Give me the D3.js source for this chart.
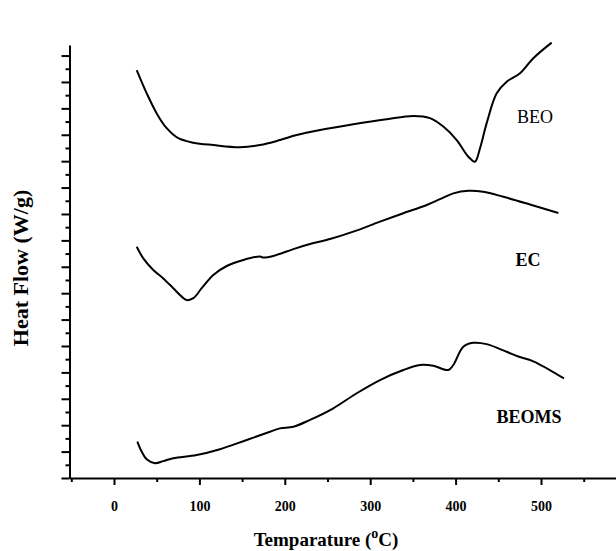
<!DOCTYPE html>
<html><head><meta charset="utf-8">
<script src="https://cdn.jsdelivr.net/npm/d3@7"></script>
<style>html,body{margin:0;padding:0;background:#fff;}svg{display:block;}</style>
</head><body>
<svg id="chart" width="616" height="551"></svg>
<script>
// Temperature (°C) and heat flow (arbitrary stacked units)
const beoT = [26.6,38.3,50.0,61.7,75.3,92.9,116.3,147.5,171.0,194.4,213.9,241.2,280.2,319.3,350.5,370.0,385.6,401.3,414.9,422.7,428.6,436.4,448.1,459.8,475.4,491.0,512.5];
const beoHF = [15.45,14.57,13.81,13.25,12.87,12.70,12.61,12.53,12.61,12.80,12.99,13.18,13.40,13.59,13.71,13.63,13.31,12.80,12.17,11.98,12.49,13.44,14.57,15.01,15.33,15.90,16.49];
const ecT = [26.6,34.3,46.0,57.7,69.4,79.3,85.1,92.9,102.7,116.3,132.0,151.4,171.0,174.8,186.5,210.0,229.5,252.9,280.2,311.5,338.8,366.2,381.7,397.3,414.9,432.4,455.9,487.1,520.3];
const ecHF = [8.76,8.32,7.88,7.56,7.19,6.87,6.74,6.81,7.19,7.69,8.03,8.26,8.39,8.35,8.41,8.67,8.86,9.05,9.33,9.71,10.03,10.34,10.56,10.78,10.88,10.84,10.65,10.36,10.04];
const beomsT = [27.3,32.4,38.3,48.0,57.7,69.4,96.8,124.1,155.4,182.7,194.4,210.0,229.5,256.8,284.2,311.5,338.8,358.3,373.9,391.5,397.3,409.0,420.7,436.4,459.8,473.4,491.0,526.9];
const beomsHF = [1.38,1.00,0.71,0.56,0.64,0.75,0.87,1.09,1.44,1.75,1.88,1.94,2.20,2.64,3.21,3.71,4.09,4.28,4.25,4.09,4.28,4.97,5.12,5.07,4.78,4.60,4.42,3.77];

const seriesNames = ["BEO","EC","BEOMS"];
const labelPos = [[493.0,13.45],[484.8,8.03],[486.0,2.08]]; // [temperature, heat flow] anchor for labels
const labelWeight = ["normal","bold","bold"];

const xMajorTicks = [0,100,200,300,400,500];
const xMinorTicks = [-50,50,150,250,350,450,550];
const yMajorTicks = d3.range(0,17,1);
const yMinorTicks = d3.range(0.5,16.5,1);

const xTitle = "Temparature (";
const yTitle = "Heat Flow (W/g)";

const svg = d3.select("#chart");
const x = d3.scaleLinear().domain([0,500]).range([114,541]);
const xLeft = x.invert(69.5), xRight = x.invert(616);
const xAxisScale = x.copy().domain([xLeft,xRight]).range([69.5,616]);
const y = d3.scaleLinear().domain([0,16.4]).range([478,45]);
const font = "'Liberation Serif','Times New Roman',serif";

// x axis
const gx = svg.append("g").attr("transform","translate(0,478)");
gx.call(d3.axisBottom(xAxisScale).tickValues(xMajorTicks).tickSize(7).tickSizeOuter(0).tickPadding(16).tickFormat(d3.format("d")));
gx.append("g").call(d3.axisBottom(xAxisScale).tickValues(xMinorTicks).tickSize(4).tickFormat(""))
  .select(".domain").remove();
gx.selectAll("text").attr("font-family",font).attr("font-weight","bold").attr("font-size",14).attr("fill","#000");

// y axis
const gy = svg.append("g").attr("transform","translate(69.5,0)");
gy.call(d3.axisLeft(y).tickValues(yMajorTicks).tickSize(8).tickSizeOuter(0).tickFormat(""));
gy.append("g").call(d3.axisLeft(y).tickValues(yMinorTicks).tickSize(4).tickFormat(""))
  .select(".domain").remove();

svg.selectAll(".domain").attr("stroke","#000").attr("stroke-width",2);
svg.selectAll(".tick line").attr("stroke","#000").attr("stroke-width",2);

// curves
const line = d3.line().x(d=>x(d[0])).y(d=>y(d[1])).curve(d3.curveCatmullRom.alpha(0.5));
const series = [d3.zip(beoT,beoHF), d3.zip(ecT,ecHF), d3.zip(beomsT,beomsHF)];
svg.append("g").selectAll("path").data(series).join("path")
  .attr("d",line).attr("fill","none").attr("stroke","#000").attr("stroke-width",2);

// series labels
svg.append("g").selectAll("text").data(seriesNames).join("text")
  .attr("x",(d,i)=>x(labelPos[i][0])).attr("y",(d,i)=>y(labelPos[i][1]))
  .attr("text-anchor","middle").attr("font-family",font).attr("font-size",18)
  .attr("font-weight",(d,i)=>labelWeight[i]).attr("fill","#000").text(d=>d);

// axis titles
const xt = svg.append("text").attr("x",326).attr("y",546).attr("text-anchor","middle")
  .attr("font-family",font).attr("font-weight","bold").attr("font-size",19).attr("fill","#000");
xt.append("tspan").text(xTitle);
xt.append("tspan").attr("dy",-8).attr("font-size",14).text("o");
xt.append("tspan").attr("dy",8).text("C)");

svg.append("text").attr("transform","translate(28,268) rotate(-90)").attr("text-anchor","middle")
  .attr("font-family",font).attr("font-weight","bold").attr("font-size",22).attr("fill","#000").text(yTitle);
</script>
</body></html>
